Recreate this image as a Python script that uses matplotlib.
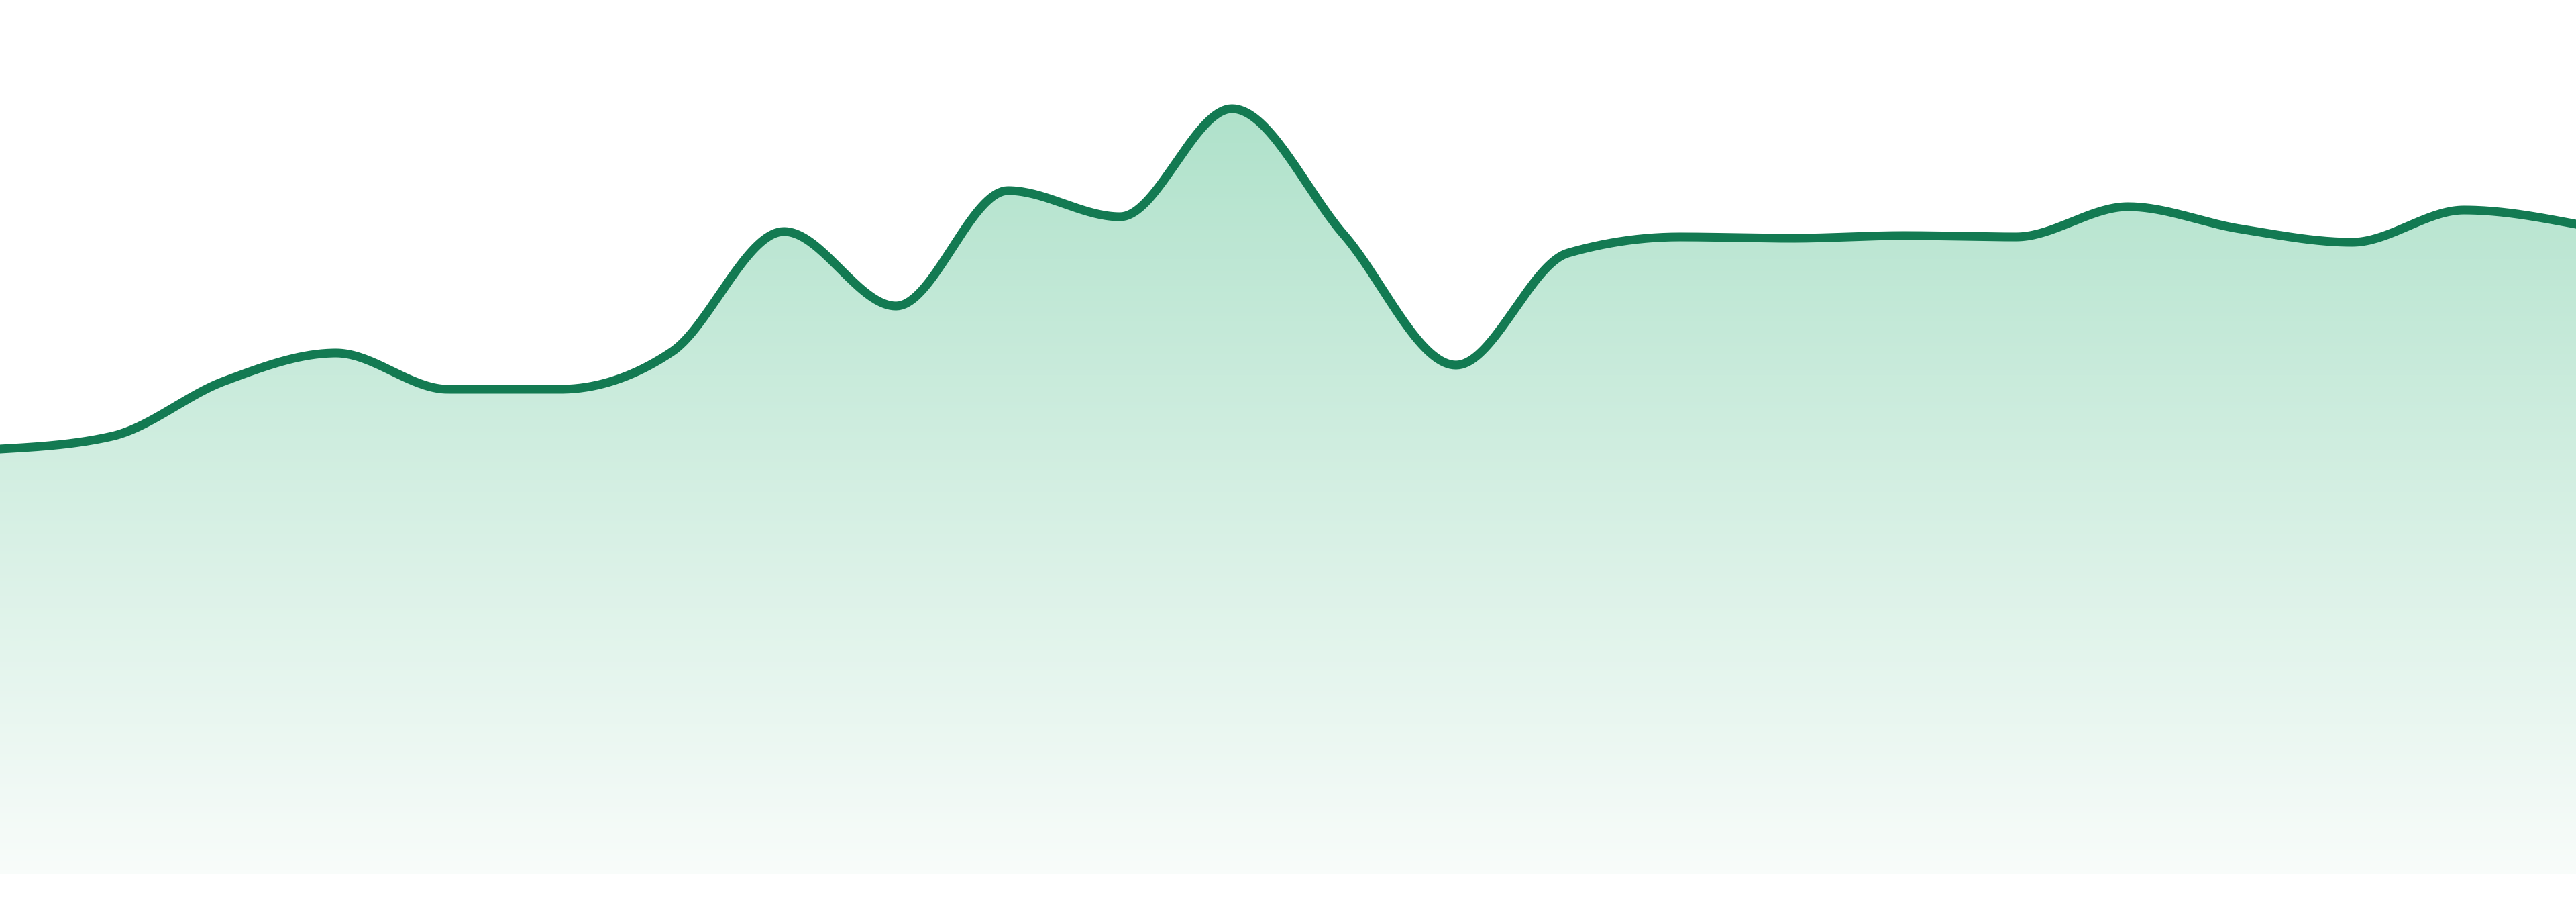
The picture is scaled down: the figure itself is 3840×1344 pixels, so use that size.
import numpy as np
import matplotlib
matplotlib.use("Agg")
import matplotlib.pyplot as plt
from matplotlib.colors import LinearSegmentedColormap

# values (24 evenly spaced points)
idx = np.arange(24)
values = [63.4, 65.3, 73.5, 77.7, 72.3, 72.3, 77.9, 95.8, 84.7, 101.9, 98.0, 114.1,
          95.3, 75.9, 92.6, 95.0, 94.8, 95.2, 95.0, 99.5, 96.2, 94.2, 99.0, 96.9]

line_color = "#137a52"
fill_top = "#b0e2cb"
fill_bottom = "#f8fcfa"


# monotone cubic curve, same idea as d3.curveMonotoneX
def monotone_x(x, y, n=40):
    x = np.asarray(x, float)
    y = np.asarray(y, float)
    h = np.diff(x)
    s = np.diff(y) / h
    t = np.zeros(len(x))
    for i in range(1, len(x) - 1):
        p = (s[i - 1] * h[i] + s[i] * h[i - 1]) / (h[i - 1] + h[i])
        t[i] = (np.sign(s[i - 1]) + np.sign(s[i])) * min(abs(s[i - 1]), abs(s[i]), 0.5 * abs(p))
    t[0] = (3 * s[0] - t[1]) / 2
    t[-1] = (3 * s[-1] - t[-2]) / 2
    xs, ys = [], []
    u = np.linspace(0, 1, n)
    for i in range(len(x) - 1):
        dx = h[i] / 3
        p0 = np.array([x[i], y[i]])
        p1 = np.array([x[i] + dx, y[i] + dx * t[i]])
        p2 = np.array([x[i + 1] - dx, y[i + 1] - dx * t[i + 1]])
        p3 = np.array([x[i + 1], y[i + 1]])
        b = ((1 - u) ** 3)[:, None] * p0 + (3 * (1 - u) ** 2 * u)[:, None] * p1 \
            + (3 * (1 - u) * u ** 2)[:, None] * p2 + (u ** 3)[:, None] * p3
        if i > 0:
            b = b[1:]
        xs.append(b[:, 0])
        ys.append(b[:, 1])
    return np.concatenate(xs), np.concatenate(ys)


cx, cy = monotone_x(idx, values)

fig = plt.figure(figsize=(38.4, 13.44), dpi=100)
ax = fig.add_axes([0, 0, 1, 1])
ax.set_xlim(0, 23)
ax.set_ylim(-4.1, 130.3)
ax.axis("off")

# gradient fill under the curve
area = ax.fill_between(cx, 0, cy, facecolor="none", edgecolor="none")
cmap = LinearSegmentedColormap.from_list("g", [fill_bottom, fill_top])
grad = np.linspace(0, 1, 256).reshape(-1, 1)
img = ax.imshow(grad, cmap=cmap, aspect="auto", origin="lower",
                extent=[0, 23, 0, max(values)], interpolation="bilinear", zorder=1)
img.set_clip_path(area.get_paths()[0], transform=ax.transData)

ax.plot(cx, cy, color=line_color, linewidth=9.4, solid_joinstyle="round", zorder=3)

fig.savefig("out.png", dpi=100, facecolor="white")
